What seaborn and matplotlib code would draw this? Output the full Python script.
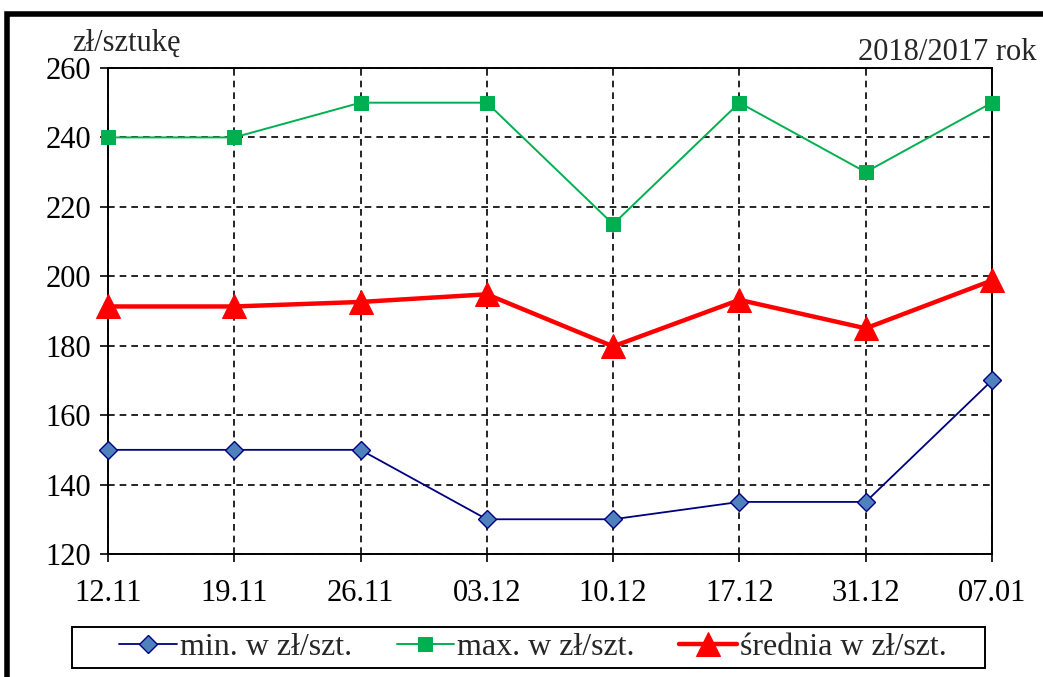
import numpy as np
import pandas as pd
import seaborn as sns
import matplotlib.pyplot as plt
from matplotlib.patches import Rectangle

# data
dates = ["12.11", "19.11", "26.11", "03.12", "10.12", "17.12", "31.12", "07.01"]
min_vals = [150, 150, 150, 130, 130, 135, 135, 170]
max_vals = [240, 240, 250, 250, 215, 250, 230, 250]
avg_vals = [191.3, 191.3, 192.6, 194.8, 179.8, 193.2, 185.0, 198.8]

labels = ["min. w zł/szt.", "max. w zł/szt.", "średnia w zł/szt."]

sns.set_theme(style="white")
plt.rcParams['font.family'] = ['Liberation Serif', 'DejaVu Serif']

fig = plt.figure(figsize=(10.43, 6.77), dpi=100)
ax = fig.add_axes([0.1035, 0.1817, 0.8476, 0.7179])

df = pd.DataFrame({"pos": np.arange(len(dates)), "date": dates,
                   "min": min_vals, "max": max_vals, "avg": avg_vals})

sns.lineplot(data=df, x="pos", y="min", ax=ax, color="#000080", linewidth=1.3,
             marker="D", markersize=9, markerfacecolor="#4F81BD",
             markeredgecolor="#000080", markeredgewidth=1.0, label=labels[0],
             clip_on=False, zorder=4)
sns.lineplot(data=df, x="pos", y="max", ax=ax, color="#00B050", linewidth=1.4,
             marker="s", markersize=10.5, markerfacecolor="#00B050",
             markeredgecolor="#00B050", label=labels[1], clip_on=False, zorder=4)
sns.lineplot(data=df, x="pos", y="avg", ax=ax, color="#FF0000", linewidth=3.2,
             marker="^", markersize=17, markerfacecolor="#FF0000",
             markeredgecolor="#FF0000", label=labels[2], clip_on=False, zorder=5)

ax.set_xlim(0, len(dates) - 1)
ax.set_ylim(120, 260)
ax.set_yticks(range(120, 261, 20))
ax.set_xticks(df["pos"])
ax.set_xticklabels(dates)
ax.set_xlabel("")
ax.set_ylabel("")
ax.tick_params(axis="both", labelsize=22, colors="black", direction="out",
               length=6, width=1.2, left=True, bottom=True, pad=6)
ax.tick_params(axis="x", pad=12)

ax.grid(True, color="black", linestyle=(0, (4, 3)), linewidth=1.2)
ax.set_axisbelow(True)
for s in ax.spines.values():
    s.set_color("black")
    s.set_linewidth(1.4)

fig.text(0.069, 0.925, "zł/sztukę", fontsize=22, ha="left", va="baseline")
fig.text(0.994, 0.912, "2018/2017 rok", fontsize=22, ha="right", va="baseline")

# legend without its own frame, box drawn separately
leg = ax.legend(loc="center", bbox_to_anchor=(0.511, 0.044),
                bbox_transform=fig.transFigure, ncol=3, frameon=False,
                fontsize=23, handlelength=1.8, handletextpad=0.1,
                columnspacing=1.4, borderpad=0, borderaxespad=0)
fig.patches.append(Rectangle((0.069, 0.0133), 0.875, 0.0606,
                             transform=fig.transFigure, fill=False,
                             edgecolor="black", linewidth=1.4))

# outer frame of the figure
fig.patches.append(Rectangle((0.007, -0.05), 1.1, 1.03, transform=fig.transFigure,
                             fill=False, edgecolor="black", linewidth=4))

fig.savefig("out.png", dpi=100)
